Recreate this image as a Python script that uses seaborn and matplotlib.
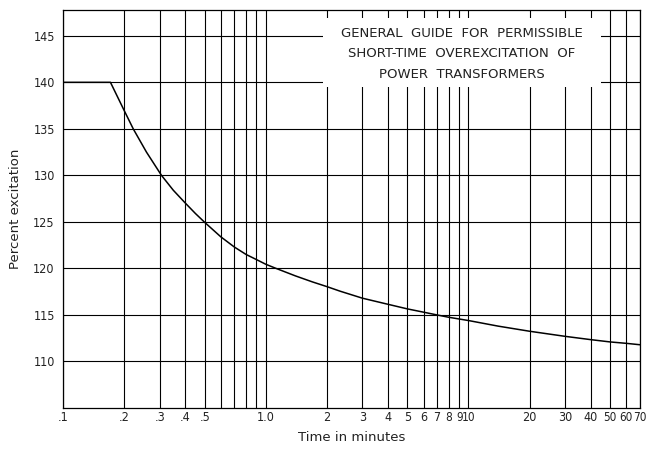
import matplotlib
matplotlib.use("Agg")
import matplotlib.pyplot as plt
import matplotlib.patches as mpatches
from matplotlib.ticker import FixedLocator, FixedFormatter, NullLocator
import seaborn as sns
import pandas as pd

# Data
time_min = [0.1, 0.1714, 0.2, 0.222, 0.258, 0.306, 0.35, 0.4, 0.45, 0.5, 0.6, 0.7, 0.8, 0.9, 1.0, 1.11, 1.4, 1.7,
            2, 2.33, 3, 4, 5, 6, 7, 8, 10, 14, 20, 30, 40, 50, 60, 70]
percent = [140.0, 140.0, 137.0, 135.0, 132.5, 130.0, 128.4, 127.05, 125.9, 124.95, 123.4, 122.3, 121.5, 120.95, 120.45, 120.05, 119.2, 118.55,
           118.05, 117.55, 116.8, 116.15, 115.65, 115.3, 115.0, 114.75, 114.4, 113.8, 113.25, 112.7, 112.35, 112.1, 111.95, 111.8]

x_ticks = [0.1, 0.2, 0.3, 0.4, 0.5, 1.0, 2, 3, 4, 5, 6, 7, 8, 9, 10, 20, 30, 40, 50, 60, 70]
x_tick_labels = [".1", ".2", ".3", ".4", ".5", "1.0", "2", "3", "4", "5", "6", "7", "8", "9", "10", "20", "30", "40", "50", "60", "70"]
x_minor_grid = [0.6, 0.7, 0.8, 0.9]
y_ticks = [110, 115, 120, 125, 130, 135, 140, 145]

title_lines = ["GENERAL  GUIDE  FOR  PERMISSIBLE", "SHORT-TIME  OVEREXCITATION  OF", "POWER  TRANSFORMERS"]

sns.set_style("white")
plt.rcParams['font.family'] = ['DejaVu Sans']

df = pd.DataFrame({"time": time_min, "pct": percent})

fig = plt.figure(figsize=(6.51, 4.49), dpi=100)
ax = fig.add_axes([0.0968, 0.0913, 0.886, 0.887])

sns.lineplot(data=df, x="time", y="pct", ax=ax, color="black", linewidth=1.1, zorder=4)

ax.set_xscale("log")
ax.set_xlim(0.1, 70)
ax.set_ylim(105, 147.8)

ax.xaxis.set_major_locator(FixedLocator(x_ticks))
ax.xaxis.set_major_formatter(FixedFormatter(x_tick_labels))
ax.xaxis.set_minor_locator(FixedLocator(x_minor_grid))
ax.yaxis.set_major_locator(FixedLocator(y_ticks))
ax.yaxis.set_minor_locator(NullLocator())

ax.grid(True, which="both", axis="x", color="black", linewidth=0.8)
ax.grid(True, which="major", axis="y", color="black", linewidth=0.8)
ax.set_axisbelow(True)

ax.tick_params(axis="x", which="both", length=0, colors="#222222", pad=2.5)
ax.tick_params(axis="y", which="both", length=0, colors="#222222", pad=6)
for lbl in ax.get_xticklabels() + ax.get_yticklabels():
    lbl.set_fontsize(9)
    lbl.set_fontstretch("condensed")
for lbl in ax.get_xticklabels():
    if lbl.get_text() in ("8", "9", "10", "50", "60", "70"):
        lbl.set_fontsize(8.5)
for s in ax.spines.values():
    s.set_color("black")
    s.set_linewidth(0.9)

ax.set_xlabel("Time in minutes", fontsize=9.5, color="#222222", labelpad=5)
ax.set_ylabel("Percent excitation", fontsize=9.5, color="#222222", labelpad=8)

# White title box
rect = mpatches.Rectangle((0.450, 0.805), 0.482, 0.175, transform=ax.transAxes,
                          facecolor="white", edgecolor="none", zorder=3)
ax.add_patch(rect)
ax.text(0.691, 0.889, "\n".join(title_lines), transform=ax.transAxes,
        ha="center", va="center", fontsize=9.5, color="#222222",
        linespacing=1.75, zorder=5)

fig.savefig("out.png", dpi=100)
